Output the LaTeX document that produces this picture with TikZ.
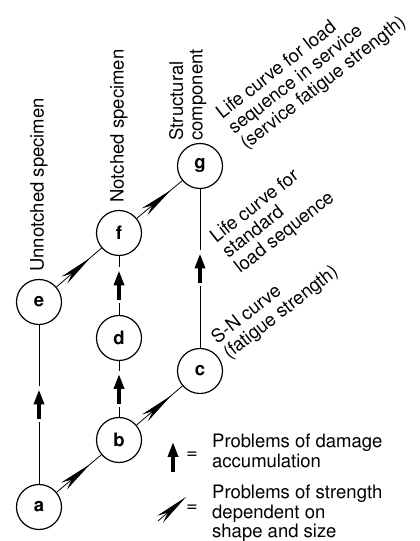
\documentclass[tikz,border=0pt]{standalone}
\usepackage[T1]{fontenc}
\usepackage{helvet}
\renewcommand\familydefault{\sfdefault}
\usetikzlibrary{arrows.meta,decorations.markings}

\tikzset{
  stage/.style={draw, circle, line width=1.2pt, minimum size=45pt, inner sep=0pt, font=\bfseries},
  lbl/.style={inner sep=0pt, align=left},
  accum/.style={line width=3.5pt, -{Triangle[length=15pt,width=10pt]}},
  dart/.style={line width=0.8pt, -{Stealth[length=34pt,width=9pt,inset=10pt]}},
  damage/.style={line width=0.8pt, postaction={decorate},
    decoration={markings, mark=at position 0.5 with {\draw[white,line width=6pt] (-18pt,0) -- (18pt,0); \draw[accum] (-15pt,0) -- (15pt,0);}}},
  strength/.style={line width=0.8pt, postaction={decorate},
    decoration={markings, mark=at position 0.75 with {\arrow{Stealth[length=34pt,width=9pt,inset=10pt]}}}},
}

\begin{document}
\fontsize{18.5}{19.5}\selectfont
\begin{tikzpicture}[x=1pt,y=1pt]
\useasboundingbox (0,0) rectangle (420,541);

% stages
\node[stage] (a) at (39,34) {a};
\node[stage] (b) at (119,101) {b};
\node[stage] (c) at (200,170) {c};
\node[stage] (d) at (119,203) {d};
\node[stage] (e) at (39,239) {e};
\node[stage] (f) at (119,308) {f};
\node[stage] (g) at (200,375) {g};

% damage accumulation
\draw[damage] (a) -- (e);
\draw[damage] (b) -- (d);
\draw[damage] (d) -- (f);
\draw[damage] (c) -- (g);

% shape and size
\draw[strength] (a) -- (b);
\draw[strength] (b) -- (c);
\draw[strength] (e) -- (f);
\draw[strength] (f) -- (g);

% column titles
\node[lbl, rotate=90, anchor=west] (unnotched) at (39,269) {Unnotched specimen};
\node[lbl, rotate=90, anchor=west] (notched) at (119,338) {Notched specimen};
\node[lbl, rotate=90, anchor=north west] (component) at (169,400) {Structural\\component};

% curves
\node[lbl, rotate=38, anchor=north west] (service) at (213.6,432.5) {Life curve for load\\sequence in service\\(service fatigue strength)};
\node[lbl, rotate=38, anchor=north west] (standard) at (207.6,308.5) {Life curve for\\standard\\load sequence};
\node[lbl, rotate=38, anchor=north west] (sncurve) at (208.6,207.5) {S-N curve\\(fatigue strength)};

% legend
\coordinate (acc tail) at (173,69);
\coordinate (acc tip) at (173,99);
\draw[accum] (acc tail) -- (acc tip);
\node (acc eq) at (192,86) {=};
\node[lbl, anchor=north west] (acc text) at (212,107) {Problems of damage\\accumulation};

\coordinate (shp tail) at (158,20);
\coordinate (shp tip) at (186,44);
\draw[dart] (shp tail) -- (shp tip);
\node (shp eq) at (192,33) {=};
\node[lbl, anchor=north west] (shp text) at (212,56) {Problems of strength\\dependent on\\shape and size};
\end{tikzpicture}
\end{document}
